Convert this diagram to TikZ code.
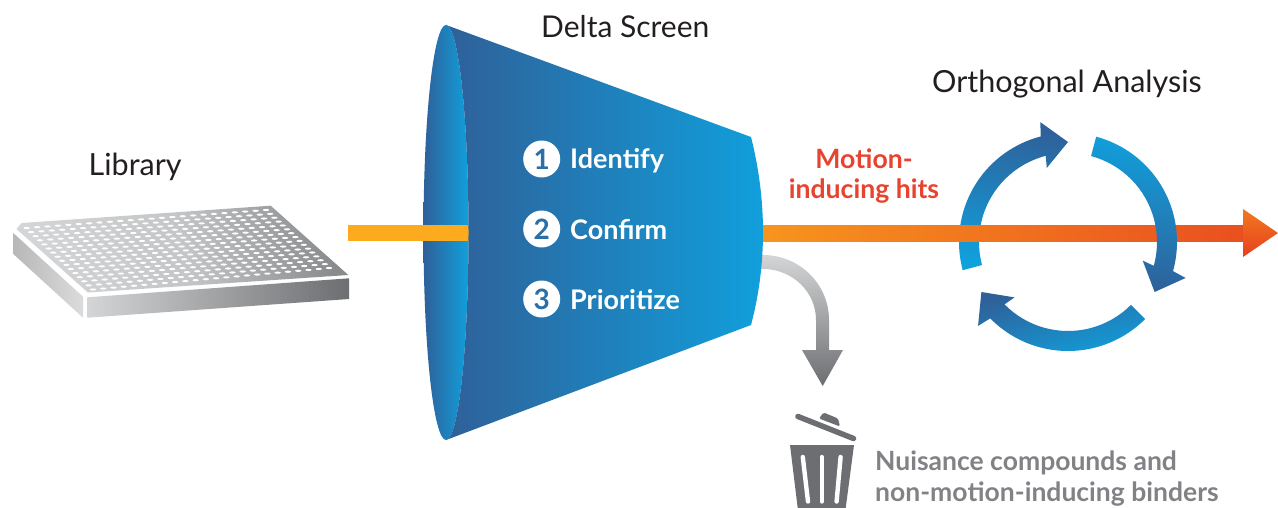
\documentclass[tikz,border=0pt]{standalone}
\usepackage{fontspec}
\setmainfont{Lato}
\usetikzlibrary{calc}
\definecolor{coneDark}{HTML}{2F6099}
\definecolor{coneLight}{HTML}{10A0DC}
\definecolor{barYellow}{HTML}{FBAB1D}
\definecolor{barOrange}{HTML}{F7941E}
\definecolor{barRed}{HTML}{E9501F}
\definecolor{headRed}{HTML}{E6401F}
\definecolor{hitRed}{HTML}{E8432E}
\definecolor{greyDark}{HTML}{6D6E71}
\definecolor{greyMid}{HTML}{808285}
\definecolor{greyLight}{HTML}{D3D5D6}
\definecolor{inkDark}{HTML}{231F20}
\definecolor{digitBlue}{HTML}{2B6EA8}
\tikzset{
  heading/.style={font=\fontsize{30.5}{34}\selectfont,text=inkDark,anchor=base west,inner sep=0pt},
  stepword/.style={font=\fontsize{27}{30}\selectfont\bfseries,text=white,anchor=base west,inner sep=0pt},
  stepdisc/.style={circle,fill=white,minimum size=37pt,inner sep=0pt,font=\fontsize{28}{30}\selectfont\bfseries,text=digitBlue},
  hitword/.style={font=\fontsize{26.6}{30}\selectfont\bfseries,text=hitRed,anchor=base,inner sep=0pt},
  nuisance/.style={font=\fontsize{26.5}{30}\selectfont\bfseries,text=greyMid,anchor=base west,inner sep=0pt},
  cyclearrow/.style={top color=coneDark,bottom color=coneLight,draw=none}
}
\begin{document}
\begin{tikzpicture}[x=1pt,y=-1pt]
\useasboundingbox (0,0) rectangle (1278,508);
\fill[white] (0,0) rectangle (1278,508);

% plate
\path[left color=greyLight,right color=greyDark!80,middle color=greyLight!85!greyDark,shading angle=100]
  (21.7,223) -- (270.7,205.7) -- (348.3,275) -- (88,292.5) -- (16.5,229) -- cycle;
\path[left color=black!28,right color=black!14]
  (13.3,233) -- (83,296.7) -- (83,317.7) -- (13.3,254) -- cycle;
\path[left color=greyLight,middle color=black!27,right color=greyDark]
  (87.3,297.3) -- (349,278.3) -- (349,299) -- (87.3,317.7) -- cycle;
\foreach \r in {0,...,15}{
  \foreach \c in {0,...,23}{
    \pgfmathsetmacro{\u}{\c/23}
    \pgfmathsetmacro{\v}{\r/15}
    \pgfmathsetmacro{\hx}{(1-\v)*((1-\u)*26.7+\u*266)+\v*((1-\u)*93+\u*329)}
    \pgfmathsetmacro{\hy}{(1-\v)*((1-\u)*228+\u*210)+\v*((1-\u)*289.5+\u*268)}
    \fill[white] (\hx,\hy) ellipse [x radius=3.2,y radius=1.1];
  }
}

% discard arrow behind the cone
\path[top color=greyLight,bottom color=greyDark]
  (755,255) -- (763,255) arc[start angle=-90,end angle=0,x radius=66,y radius=65]
  -- (829,350) -- (843,350) -- (822.7,386) -- (802,350) -- (816,350) -- (816,320)
  arc[start angle=0,end angle=-90,x radius=53,y radius=51] -- (755,269) -- cycle;

% cone
\path[left color=coneDark,right color=coneLight] (446,232.5) ellipse [x radius=22.5,y radius=207.5];
\fill[barYellow] (348,225) rectangle (469,241);
\path[left color=coneDark,right color=coneLight]
  (446,25) -- (751,137)
  .. controls (767,200) and (767,265) .. (751,325)
  -- (446,440)
  arc[start angle=90,end angle=-90,x radius=22.5,y radius=207.5] -- cycle;

% cycle arrow 1 (behind the main arrow)
\begin{scope}[shift={(1068,242)},x=1pt,y=1pt]
  \path[cyclearrow,shading angle=-10]
    (195:109) arc[start angle=195,end angle=104.5,radius=109]
    -- (103:123) -- (90:100) -- (106:77) -- (104.5:89)
    arc[start angle=104.5,end angle=195,radius=89] -- cycle;
\end{scope}

% main arrow
\path[left color=barOrange,right color=barRed] (763,225) rectangle (1244,241);
\path[top color=barOrange!60!barRed,bottom color=headRed] (1243,209) -- (1278,233) -- (1243,257) -- cycle;

% cycle arrows 2 and 3
\begin{scope}[shift={(1068,242)},x=1pt,y=1pt]
  \path[cyclearrow,shading angle=170]
    (75:109) arc[start angle=75,end angle=-15.5,radius=109]
    -- (-17:123) -- (-30:100) -- (-14:77) -- (-15.5:89)
    arc[start angle=-15.5,end angle=75,radius=89] -- cycle;
  \path[cyclearrow,shading angle=15]
    (-45:109) arc[start angle=-45,end angle=-135.5,radius=109]
    -- (-137:123) -- (-150:100) -- (-134:77) -- (-135.5:89)
    arc[start angle=-135.5,end angle=-45,radius=89] -- cycle;
\end{scope}

% bin
\fill[greyDark] (790,445) -- (854,445) -- (845.7,508) -- (797.7,508) -- cycle;
\draw[white,line width=4.4,line cap=round] (802.8,457) -- (808,501.5);
\draw[white,line width=4.4,line cap=round] (821.7,457) -- (821.7,501.5);
\draw[white,line width=4.4,line cap=round] (840.6,457) -- (836.6,501.5);
\draw[greyDark,line width=5.5,line cap=round] (798,416.5) -- (853.5,438.5);
\fill[greyDark,rounded corners=1.5] (819,418.5) -- (823.5,412.5) -- (838,418.5) -- (840,426.5) -- cycle;

% labels
\node[heading] (lib) at (88.5,176) {Library};
\node[heading,font=\fontsize{30}{34}\selectfont] (delta) at (541,38) {Delta Screen};
\node[heading] (orth) at (932,93) {Orthogonal Analysis};
\node[stepdisc] (d1) at (541.7,159) {1};
\node[stepdisc] (d2) at (541.7,229) {2};
\node[stepdisc] (d3) at (541.7,299) {3};
\node[stepword] (s1) at (570,169) {Iden\kern0pt tify};
\node[stepword] (s2) at (570,239) {Confirm};
\node[stepword] (s3) at (570,309) {Priori\kern0pt tize};
\node[hitword] (h1) at (864,168) {Mo\kern0pt tion-};
\node[hitword] (h2) at (864,198.5) {inducing hits};
\node[nuisance] (n1) at (875,470) {Nuisance compounds and};
\node[nuisance] (n2) at (875,501) {non-mo\kern0pt tion-inducing binders};
\end{tikzpicture}
\end{document}
